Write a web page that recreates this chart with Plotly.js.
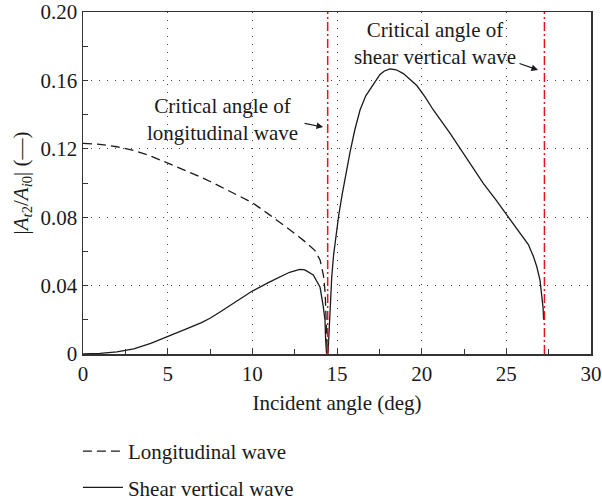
<!DOCTYPE html>
<html>
<head>
<meta charset="utf-8">
<script src="https://cdn.plot.ly/plotly-3.0.1.min.js"></script>
<style>
  html, body { margin: 0; padding: 0; background: #fff; }
  #chart { width: 602px; height: 501px; }
</style>
</head>
<body>
<div id="chart"></div>
<script>
// Transmission amplitude ratio |At2/Ai0| versus incident angle (deg)

// Longitudinal wave (dashed)
const longAngle = [0, 1, 2, 3, 4, 5, 6, 7, 8, 9, 10, 11, 12, 12.6, 13.2, 13.7, 14.0, 14.2, 14.3, 14.36, 14.42];
const longAmp   = [0.1232, 0.1226, 0.1212, 0.1190, 0.1158, 0.1115, 0.1073, 0.1033, 0.0985, 0.0935, 0.0885, 0.0815, 0.0745, 0.0698, 0.0650, 0.0605, 0.0550, 0.0460, 0.0360, 0.0180, 0.0020];

// Shear vertical wave (solid)
const svAngle = [0, 0.5, 1, 2, 2.5, 3, 4, 5, 6, 7, 7.5, 8, 9, 10, 11, 11.6, 12.2, 12.8, 13.1, 13.6, 14.0, 14.19, 14.29, 14.33, 14.38,
                 14.47, 14.59, 14.69, 14.8, 14.95, 15.1, 15.3, 15.5, 15.77, 16.05, 16.36, 16.7, 17.05, 17.3, 17.54, 17.8, 18.13,
                 18.5, 18.92, 19.3, 19.71, 20.2, 20.69, 21.68, 22.66, 23.64, 24.43, 25.02, 25.6, 26.0, 26.3, 26.6, 26.8, 26.99,
                 27.1, 27.17, 27.2];
const svAmp   = [0, 0.0001, 0.0004, 0.0012, 0.0019, 0.0030, 0.0062, 0.0101, 0.0142, 0.0184, 0.0209, 0.0240, 0.0305, 0.0368, 0.0420, 0.0450, 0.0478, 0.0495, 0.0492, 0.0462, 0.0390, 0.0277, 0.0199, 0.0080, 0.0005,
                 0.0005, 0.0260, 0.0450, 0.0580, 0.0710, 0.0810, 0.0930, 0.1040, 0.1180, 0.1310, 0.1427, 0.1510, 0.1563, 0.1605, 0.1635, 0.1655, 0.1667,
                 0.1662, 0.1640, 0.1607, 0.1570, 0.1503, 0.1427, 0.1290, 0.1144, 0.0998, 0.0895, 0.0815, 0.0735, 0.0685, 0.0640, 0.0570, 0.0510, 0.0430,
                 0.0350, 0.0270, 0.0200];

// Critical angles (deg): longitudinal, shear vertical
const criticalAngles = [14.45, 27.25];

// Axis ticks
const xTickVals = [0, 5, 10, 15, 20, 25, 30];
const yTickVals = [0, 0.04, 0.08, 0.12, 0.16, 0.20];
const yTickText = ['0', '0.04', '0.08', '0.12', '0.16', '0.20'];

const FONT = 'Liberation Serif, Times New Roman, serif';
const INK = '#1a1a1a';

const traces = [
  {
    x: longAngle, y: longAmp, type: 'scatter', mode: 'lines',
    name: 'Longitudinal wave', legendgroup: 'a',
    line: { color: INK, width: 1.3, dash: '9px,5px' }
  },
  {
    x: svAngle, y: svAmp, type: 'scatter', mode: 'lines',
    name: 'Shear vertical wave', legendgroup: 'b',
    line: { color: INK, width: 1.3 }
  }
];

const shapes = criticalAngles.map(a => ({
  type: 'line', xref: 'x', yref: 'paper', x0: a, x1: a, y0: 0, y1: 1,
  line: { color: '#e8141c', width: 1.5, dash: '9px,3px,2px,3px' }
}));

const annFont = { family: FONT, size: 21, color: INK };
const arrowStyle = { text: '', showarrow: true, arrowhead: 2, arrowsize: 1.1, arrowwidth: 1.2, arrowcolor: INK };
const annotations = [
  { xref: 'x', yref: 'y', x: 8.21, y: 0.1374, text: 'Critical angle of<br>longitudinal wave',
    showarrow: false, font: annFont, align: 'center' },
  Object.assign({ xref: 'x', yref: 'y', x: 14.18, y: 0.1327, ax: -20, ay: -4 }, arrowStyle),
  { xref: 'x', yref: 'y', x: 20.79, y: 0.1813, text: 'Critical angle of<br>shear vertical wave',
    showarrow: false, font: annFont, align: 'center' },
  Object.assign({ xref: 'x', yref: 'y', x: 26.87, y: 0.1661, ax: -20, ay: -7 }, arrowStyle)
];

const axisCommon = {
  showline: true, linecolor: '#333', linewidth: 1.5, mirror: true,
  ticks: 'inside', ticklen: 5, tickwidth: 1, tickcolor: '#333',
  showgrid: true, gridcolor: '#444', gridwidth: 1, griddash: '1px,7px',
  zeroline: false, tickfont: { family: FONT, size: 21, color: INK }
};

const layout = {
  width: 602, height: 501,
  margin: { l: 83, r: 11, t: 12, b: 147, autoexpand: false },
  paper_bgcolor: '#fff', plot_bgcolor: '#fff',
  font: { family: FONT, size: 21, color: INK },
  xaxis: Object.assign({}, axisCommon, {
    range: [0, 30], tickvals: xTickVals,
    minor: { dtick: 2.5, ticks: 'inside', ticklen: 5, tickcolor: '#333', showgrid: false },
    title: { text: 'Incident angle (deg)', font: { family: FONT, size: 21, color: INK }, standoff: 10 }
  }),
  yaxis: Object.assign({}, axisCommon, {
    range: [0, 0.2], tickvals: yTickVals, ticktext: yTickText,
    minor: { dtick: 0.02, ticks: 'inside', ticklen: 5, tickcolor: '#333', showgrid: false },
    title: { text: '|<i>A</i><sub><i>t</i>2</sub>/<i>A</i><sub><i>i</i>0</sub>| (—)',
             font: { family: FONT, size: 21, color: INK }, standoff: 6 }
  }),
  showlegend: true,
  legend: {
    x: -0.01, xanchor: 'left', y: -0.225, yanchor: 'top',
    font: { family: FONT, size: 21, color: INK },
    bgcolor: 'rgba(0,0,0,0)', tracegroupgap: 6, itemwidth: 40,
    traceorder: 'grouped'
  },
  shapes: shapes,
  annotations: annotations
};

Plotly.newPlot('chart', traces, layout, { displayModeBar: false, staticPlot: true });
</script>
</body>
</html>
